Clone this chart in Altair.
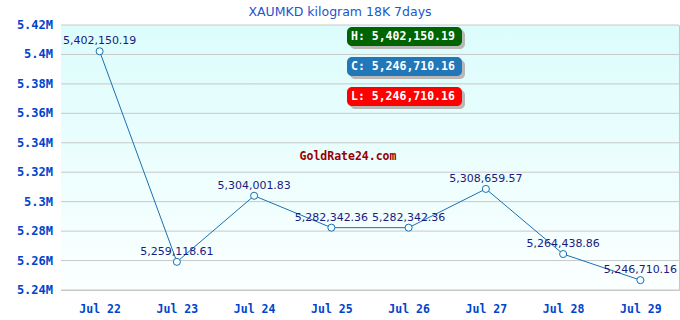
import altair as alt
import pandas as pd

dates = ["Jul 22", "Jul 23", "Jul 24", "Jul 25", "Jul 26", "Jul 27", "Jul 28", "Jul 29"]
prices = [5402150.19, 5259118.61, 5304001.83, 5282342.36, 5282342.36, 5308659.57, 5264438.86, 5246710.16]
labels = ["5,402,150.19", "5,259,118.61", "5,304,001.83", "5,282,342.36", "5,282,342.36",
          "5,308,659.57", "5,264,438.86", "5,246,710.16"]
y_ticks = [5.24e6, 5.26e6, 5.28e6, 5.30e6, 5.32e6, 5.34e6, 5.36e6, 5.38e6, 5.40e6, 5.42e6]
y_tick_labels = ["5.24M", "5.26M", "5.28M", "5.3M", "5.32M", "5.34M", "5.36M", "5.38M", "5.4M", "5.42M"]
badge_text = ["H: 5,402,150.19", "C: 5,246,710.16", "L: 5,246,710.16"]
badge_colors = ["#006400", "#2277b8", "#ff0000"]

df = pd.DataFrame({"date": dates, "price": prices, "label": labels})
tdf = pd.DataFrame({"v": y_ticks, "lab": y_tick_labels})

W, H = 618, 265
MONO = "DejaVu Sans Mono"
yscale = alt.Scale(domain=[5.24e6, 5.42e6], nice=False, zero=False)
yaxis = alt.Axis(title=None, labels=False, ticks=False, grid=False, domainColor="#c8c8c8")

xenc = alt.X("date:O", sort=dates, scale=alt.Scale(type="point", padding=0.5),
             axis=alt.Axis(title=None, labelAngle=0, ticks=False, grid=False,
                           domainColor="#c8c8c8", labelFont=MONO, labelFontWeight="bold",
                           labelFontSize=11.5, labelColor="#0044cc", labelPadding=13))

bg = alt.Chart(pd.DataFrame({"a": [0]})).mark_rect(
    color=alt.Gradient(gradient="linear", x1=0, y1=0, x2=0, y2=1,
                       stops=[alt.GradientStop(offset=0, color="#dcfcfc"),
                              alt.GradientStop(offset=1, color="#fbffff")])
).encode(x=alt.value(0), x2=alt.value(W), y=alt.value(0), y2=alt.value(H))

grid = alt.Chart(tdf).mark_rule(color="#c8c8c8", strokeWidth=1).encode(
    y=alt.Y("v:Q", scale=yscale, axis=yaxis), x=alt.value(0), x2=alt.value(W))
ylabels = alt.Chart(tdf).mark_text(font=MONO, fontWeight="bold", fontSize=12, color="#0044cc",
                                   align="right", baseline="middle").encode(
    y=alt.Y("v:Q", scale=yscale, axis=yaxis), x=alt.value(-8), text="lab:N")

line = alt.Chart(df).mark_line(color="#1a70b0", strokeWidth=1).encode(
    x=xenc, y=alt.Y("price:Q", scale=yscale, axis=yaxis))
pts = alt.Chart(df).mark_point(shape="circle", size=50, filled=False, color="#1a70b0",
                               fill="#f4ffff", fillOpacity=1, strokeWidth=1, opacity=1).encode(
    x=alt.X("date:O", sort=dates), y="price:Q")
txt = alt.Chart(df).mark_text(font="DejaVu Sans", fontSize=11, color="#1a1a80", dy=-10,
                              baseline="middle").encode(
    x=alt.X("date:O", sort=dates), y="price:Q", text="label:N")

bdf = pd.DataFrame({"t": badge_text, "c": badge_colors, "i": [0, 1, 2]})
bdf["y0"] = 2 + bdf["i"] * 30
bdf["y1"] = bdf["y0"] + 19
bdf["ys0"] = bdf["y0"] + 3
bdf["ys1"] = bdf["y1"] + 3
bdf["ym"] = bdf["y0"] + 10

shadow = alt.Chart(bdf).mark_rect(cornerRadius=5, color="#b8b8b8").encode(
    x=alt.value(289), x2=alt.value(404),
    y=alt.Y("ys0:Q", scale=None), y2="ys1:Q")
badge = alt.Chart(bdf).mark_rect(cornerRadius=5).encode(
    x=alt.value(286), x2=alt.value(401),
    y=alt.Y("y0:Q", scale=None), y2="y1:Q",
    color=alt.Color("c:N", scale=None))
btxt = alt.Chart(bdf).mark_text(font=MONO, fontWeight="bold", fontSize=11.5, color="white",
                                align="left", baseline="middle").encode(
    x=alt.value(290), y=alt.Y("ym:Q", scale=None), text="t:N")

wm = alt.Chart(pd.DataFrame({"t": ["GoldRate24.com"]})).mark_text(
    font=MONO, fontWeight="bold", fontSize=11.5, color="#990000", align="center",
    baseline="middle").encode(x=alt.value(287), y=alt.value(132), text="t:N")

title = alt.Chart(pd.DataFrame({"t": ["XAUMKD kilogram 18K 7days"]})).mark_text(
    font="DejaVu Sans", fontSize=12.5, color="#2255cc", align="center",
    baseline="middle").encode(x=alt.value(279), y=alt.value(-13), text="t:N")

chart = alt.layer(bg, grid, ylabels, line, pts, txt, shadow, badge, btxt, wm, title).properties(
    width=W, height=H,
    autosize=alt.AutoSizeParams(type="none"),
    padding={"left": 61, "top": 25, "right": 1, "bottom": 30},
    background="white",
).configure_view(stroke="#c8c8c8", strokeWidth=1)

chart.save("out.html", embed_options={"renderer": "svg", "actions": False})
